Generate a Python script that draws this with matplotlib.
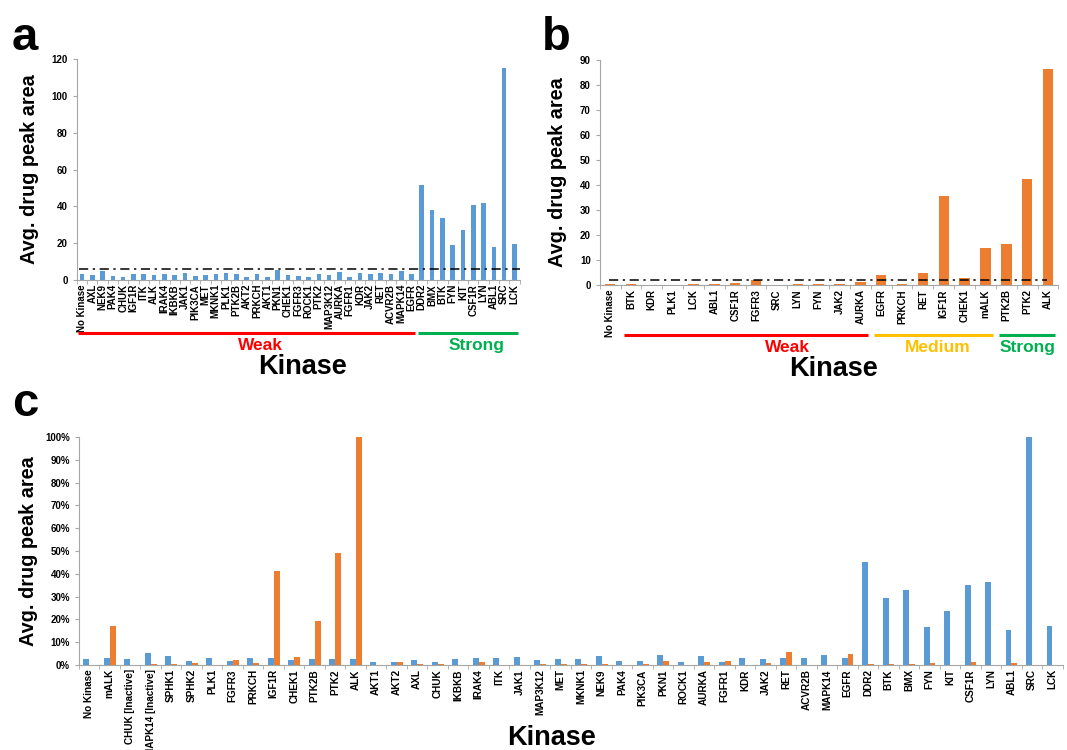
import numpy as np
import matplotlib.pyplot as plt
from matplotlib.transforms import blended_transform_factory

plt.rcParams['font.family'] = ['Liberation Sans', 'DejaVu Sans']
plt.rcParams['font.weight'] = 'bold'

BLUE = '#5B9BD5'
ORANGE = '#ED7D31'
RED = '#FF0000'
GREEN = '#00B050'
YELLOW = '#FFC000'

# panel a
a_kinases = ['No Kinase', 'AXL', 'NEK9', 'PAK4', 'CHUK', 'IGF1R', 'ITK', 'ALK', 'IRAK4', 'IKBKB',
             'JAK1', 'PIK3CA', 'MET', 'MKNK1', 'PLK1', 'PTK2B', 'AKT2', 'PRKCH', 'AKT1', 'PKN1',
             'CHEK1', 'FGFR3', 'ROCK1', 'PTK2', 'MAP3K12', 'AURKA', 'FGFR1', 'KDR', 'JAK2', 'RET',
             'ACVR2B', 'MAPK14', 'EGFR', 'DDR2', 'BMX', 'BTK', 'FYN', 'KIT', 'CSF1R', 'LYN',
             'ABL1', 'SRC', 'LCK']
a_values = [3.3, 2.5, 4.5, 2.2, 1.3, 3.3, 3.3, 2.7, 3.4, 2.7,
            3.8, 1.8, 2.7, 3.1, 3.8, 2.9, 1.6, 3.4, 1.6, 5.1,
            2.7, 2.2, 1.4, 2.9, 2.7, 4.3, 1.4, 3.8, 3.3, 3.8,
            3.4, 4.9, 3.4, 51.7, 38.0, 33.8, 19.0, 27.1, 40.5, 41.6,
            17.7, 115.0, 19.2]
a_threshold = 6.0
a_groups = [('Weak', 'No Kinase', 'EGFR', RED), ('Strong', 'DDR2', 'LCK', GREEN)]

# panel b
b_kinases = ['No Kinase', 'BTK', 'KDR', 'PLK1', 'LCK', 'ABL1', 'CSF1R', 'FGFR3', 'SRC', 'LYN',
             'FYN', 'JAK2', 'AURKA', 'EGFR', 'PRKCH', 'RET', 'IGF1R', 'CHEK1', 'mALK', 'PTK2B',
             'PTK2', 'ALK']
b_values = [0.3, 0.3, 0.0, 0.0, 0.3, 0.4, 1.0, 1.9, 0.0, 0.3,
            0.4, 0.4, 1.2, 4.0, 0.3, 4.8, 35.7, 2.9, 14.7, 16.6,
            42.4, 86.4]
b_threshold = 2.2
b_groups = [('Weak', 'BTK', 'AURKA', RED), ('Medium', 'EGFR', 'mALK', YELLOW),
            ('Strong', 'PTK2B', 'ALK', GREEN)]

# panel c (percent of max)
c_kinases = ['No Kinase', 'mALK', 'CHUK [Inactive]', 'MAPK14 [Inactive]', 'SPHK1', 'SPHK2', 'PLK1',
             'FGFR3', 'PRKCH', 'IGF1R', 'CHEK1', 'PTK2B', 'PTK2', 'ALK', 'AKT1', 'AKT2', 'AXL',
             'CHUK', 'IKBKB', 'IRAK4', 'ITK', 'JAK1', 'MAP3K12', 'MET', 'MKNK1', 'NEK9', 'PAK4',
             'PIK3CA', 'PKN1', 'ROCK1', 'AURKA', 'FGFR1', 'KDR', 'JAK2', 'RET', 'ACVR2B', 'MAPK14',
             'EGFR', 'DDR2', 'BTK', 'BMX', 'FYN', 'KIT', 'CSF1R', 'LYN', 'ABL1', 'SRC', 'LCK']
c_blue = [2.8, 3.1, 2.6, 5.1, 3.8, 1.6, 3.2, 1.9, 2.9, 2.9, 2.2, 2.6, 2.6, 2.5, 1.3, 1.3, 2.3,
          1.2, 2.6, 3.1, 3.1, 3.4, 2.3, 2.5, 2.6, 3.8, 1.9, 1.6, 4.2, 1.3, 3.8, 1.3, 3.2, 2.8,
          3.2, 3.1, 4.2, 2.9, 45.1, 29.3, 33.1, 16.5, 23.5, 35.2, 36.2, 15.3, 100.0, 17.1]
c_orange = [0.0, 17.1, 0.0, 0.6, 0.6, 0.9, 0.0, 2.3, 0.7, 41.3, 3.5, 19.3, 49.3, 100.0, 0.0, 1.3,
            0.3, 0.3, 0.0, 1.3, 0.0, 0.0, 0.3, 0.6, 0.3, 0.6, 0.0, 0.6, 1.9, 0.0, 1.5, 1.9, 0.0,
            0.7, 5.7, 0.0, 0.0, 4.7, 0.3, 0.3, 0.3, 0.7, 0.2, 1.3, 0.2, 0.7, 0.0, 0.2]

fig = plt.figure(figsize=(10.67, 7.5), dpi=100)


def style_axes(ax, n, labelsize):
    for s in ['top', 'right']:
        ax.spines[s].set_visible(False)
    for s in ['left', 'bottom']:
        ax.spines[s].set_color('#A6A6A6')
        ax.spines[s].set_linewidth(0.8)
    ax.set_xlim(-0.5, n - 0.5)
    ax.set_xticks(np.arange(n))
    ax.set_xticks(np.arange(n + 1) - 0.5, minor=True)
    ax.tick_params(axis='x', which='major', length=0, pad=3)
    ax.tick_params(axis='x', which='minor', length=3, color='#A6A6A6', direction='out')
    ax.tick_params(axis='y', length=3, color='#A6A6A6', labelsize=labelsize)
    for lab in ax.get_yticklabels():
        lab.set_fontweight('bold')


def add_groups(ax, kinases, groups, line_y, text_y, fs, shifts):
    tr = blended_transform_factory(ax.transData, ax.transAxes)
    for (name, first, last, col), dx in zip(groups, shifts):
        i0 = kinases.index(first) - 0.35
        i1 = kinases.index(last) + 0.35
        ax.plot([i0, i1], [line_y, line_y], color=col, lw=2.2, transform=tr, clip_on=False,
                solid_capstyle='butt')
        ax.text((i0 + i1) / 2 + dx, text_y, name, color=col, fontsize=fs, fontweight='bold',
                ha='center', va='top', transform=tr)


# ---- panel a
axa = fig.add_axes([0.072, 0.627, 0.415, 0.294])
xa = np.arange(len(a_kinases))
axa.bar(xa, a_values, width=0.45, color=BLUE)
axa.axhline(a_threshold, color='black', lw=1.1, ls=(0, (6, 3, 1.5, 3)), xmin=0.005, xmax=1)
style_axes(axa, len(a_kinases), 7)
axa.set_ylim(0, 120)
axa.set_yticks(np.arange(0, 121, 20))
axa.set_xticklabels(a_kinases, rotation=90, fontsize=7, fontweight='bold')
axa.set_ylabel('Avg. drug peak area', fontsize=14.3, fontweight='bold', labelpad=9)
add_groups(axa, a_kinases, a_groups, -0.24, -0.262, 12.5, [1.3, 0.8])
axa.text(0.51, -0.335, 'Kinase', transform=axa.transAxes, ha='center', va='top',
         fontsize=19.5, fontweight='bold')
fig.text(0.011, 0.978, 'a', fontsize=34, fontweight='bold', va='top')

# ---- panel b
axb = fig.add_axes([0.562, 0.62, 0.43, 0.30])
xb = np.arange(len(b_kinases))
axb.bar(xb, b_values, width=0.5, color=ORANGE)
axb.axhline(b_threshold, color='black', lw=1.1, ls=(0, (6, 3, 1.5, 3)), xmin=0.02, xmax=0.975)
style_axes(axb, len(b_kinases), 7)
axb.set_ylim(0, 90)
axb.set_yticks(np.arange(0, 91, 10))
axb.set_xticklabels(b_kinases, rotation=90, fontsize=7, fontweight='bold')
axb.set_ylabel('Avg. drug peak area', fontsize=14.3, fontweight='bold', labelpad=9)
add_groups(axb, b_kinases, b_groups, -0.222, -0.245, 12.5, [2.0, 0.2, 0.0])
axb.text(0.51, -0.315, 'Kinase', transform=axb.transAxes, ha='center', va='top',
         fontsize=19.5, fontweight='bold')
fig.text(0.508, 0.978, 'b', fontsize=34, fontweight='bold', va='top')

# ---- panel c
axc = fig.add_axes([0.074, 0.1133, 0.922, 0.304])
xc = np.arange(len(c_kinases))
w = 0.29
axc.bar(xc - w / 2, c_blue, width=w, color=BLUE)
axc.bar(xc + w / 2, c_orange, width=w, color=ORANGE)
style_axes(axc, len(c_kinases), 7)
axc.set_ylim(0, 100)
axc.set_yticks(np.arange(0, 101, 10))
axc.set_yticklabels([f'{v}%' for v in range(0, 101, 10)], fontweight='bold')
axc.set_xticklabels(c_kinases, rotation=90, fontsize=7.2, fontweight='bold')
axc.set_ylabel('Avg. drug peak area', fontsize=14.3, fontweight='bold', labelpad=5)
axc.text(0.48, -0.265, 'Kinase', transform=axc.transAxes, ha='center', va='top',
         fontsize=19.5, fontweight='bold')
fig.text(0.011, 0.49, 'c', fontsize=34, fontweight='bold', va='top')

fig.savefig('out.png', dpi=100)
